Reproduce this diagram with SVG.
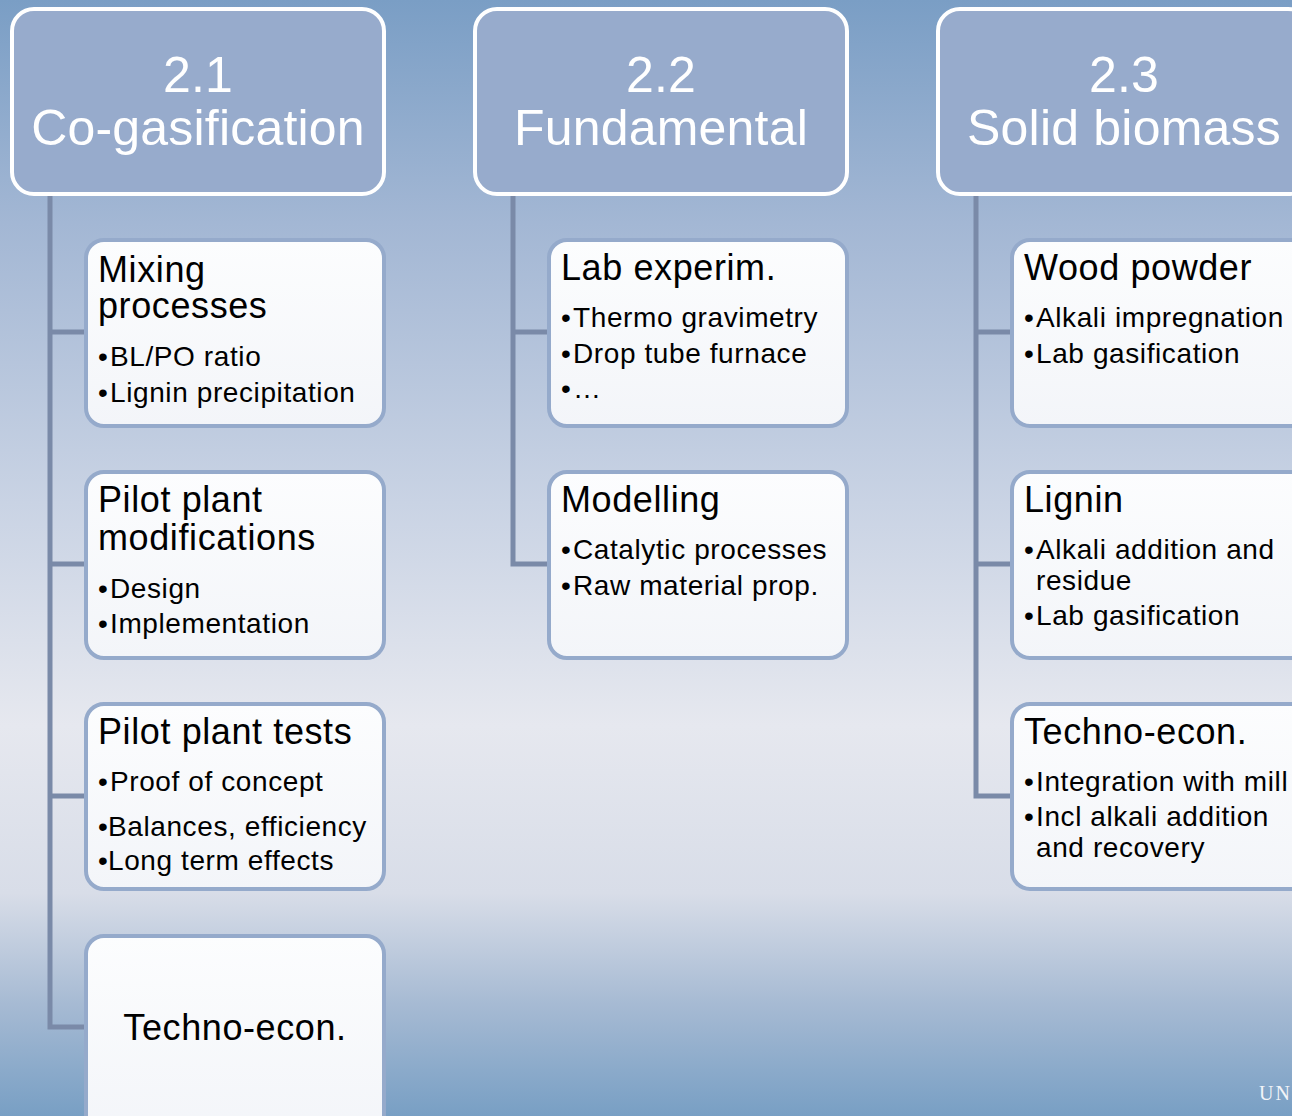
<svg xmlns="http://www.w3.org/2000/svg" width="1292" height="1116" viewBox="0 0 1292 1116">
<defs>
<linearGradient id="bg" x1="0" y1="0" x2="0" y2="1">
<stop offset="0" stop-color="#7a9ec5"/>
<stop offset="0.2" stop-color="#a3b7d4"/>
<stop offset="0.45" stop-color="#c9d3e4"/>
<stop offset="0.65" stop-color="#e6e8ef"/>
<stop offset="0.8" stop-color="#d8dde8"/>
<stop offset="0.9" stop-color="#a6bad3"/>
<stop offset="1" stop-color="#789fc4"/>
</linearGradient>
<linearGradient id="cf" x1="0" y1="0" x2="0" y2="1">
<stop offset="0" stop-color="#fcfdfe"/>
<stop offset="1" stop-color="#f3f5f9"/>
</linearGradient>
<style>
.hdr{fill:#97abcc;stroke:#ffffff;stroke-width:4}
.box{fill:url(#cf);stroke:#95aacb;stroke-width:4}
.conn{fill:none;stroke:#7a8aa8;stroke-width:5}
.ht{font-family:"Liberation Sans",Arial,sans-serif;font-size:50px;fill:#ffffff;text-anchor:middle;letter-spacing:0.2px}
.t{font-family:"Liberation Sans",Arial,sans-serif;font-size:36px;fill:#000000;letter-spacing:0.6px}
.b{font-family:"Liberation Sans",Arial,sans-serif;font-size:28px;fill:#000000;letter-spacing:0.6px}
.u{font-family:"Liberation Serif","Times New Roman",serif;font-size:20px;fill:#f2f4f8;letter-spacing:2px}
</style>
</defs>
<rect x="0" y="0" width="1292" height="1116" fill="url(#bg)"/>
<g id="connectors">
<path class="conn" d="M50 194 V1027 H86 M50 332 H86 M50 564 H86 M50 796 H86"/>
<path class="conn" d="M513 194 V564 H549 M513 332 H549"/>
<path class="conn" d="M976 194 V796 H1012 M976 332 H1012 M976 564 H1012"/>
</g>
<g id="h21"><rect class="hdr" x="12" y="9" width="372" height="185" rx="22"/><text class="ht" x="198" y="92">2.1</text><text class="ht" x="198" y="145">Co-gasification</text></g>
<g id="h22"><rect class="hdr" x="475" y="9" width="372" height="185" rx="22"/><text class="ht" x="661" y="92">2.2</text><text class="ht" x="661" y="145">Fundamental</text></g>
<g id="h23"><rect class="hdr" x="938" y="9" width="372" height="185" rx="22"/><text class="ht" x="1124" y="92">2.3</text><text class="ht" x="1124" y="145">Solid biomass</text></g>
<g id="n_mixing"><rect class="box" x="86" y="240" width="298" height="186" rx="18"/><text class="t" x="98" y="282">Mixing</text><text class="t" x="98" y="318">processes</text><text class="b" x="98" y="366">•<tspan x="110">BL/PO ratio</tspan></text><text class="b" x="98" y="402">•<tspan x="110">Lignin precipitation</tspan></text></g>
<g id="n_pilotmod"><rect class="box" x="86" y="472" width="298" height="186" rx="18"/><text class="t" x="98" y="512">Pilot plant</text><text class="t" x="98" y="550">modifications</text><text class="b" x="98" y="598">•<tspan x="110">Design</tspan></text><text class="b" x="98" y="633">•<tspan x="110">Implementation</tspan></text></g>
<g id="n_pilottests"><rect class="box" x="86" y="704" width="298" height="185" rx="18"/><text class="t" x="98" y="744">Pilot plant tests</text><text class="b" x="98" y="791">•<tspan x="110">Proof of concept</tspan></text><text class="b" x="98" y="836">•<tspan x="108">Balances, efficiency</tspan></text><text class="b" x="98" y="870">•<tspan x="108">Long term effects</tspan></text></g>
<g id="n_techno1"><rect class="box" x="86" y="936" width="298" height="200" rx="18"/><text class="t" x="235" y="1040" text-anchor="middle">Techno-econ.</text></g>
<g id="n_lab"><rect class="box" x="549" y="240" width="298" height="186" rx="18"/><text class="t" x="561" y="280">Lab experim.</text><text class="b" x="561" y="327">•<tspan x="573">Thermo gravimetry</tspan></text><text class="b" x="561" y="363">•<tspan x="573">Drop tube furnace</tspan></text><text class="b" x="561" y="398">•<tspan x="573">…</tspan></text></g>
<g id="n_model"><rect class="box" x="549" y="472" width="298" height="186" rx="18"/><text class="t" x="561" y="512">Modelling</text><text class="b" x="561" y="559">•<tspan x="573">Catalytic processes</tspan></text><text class="b" x="561" y="595">•<tspan x="573">Raw material prop.</tspan></text></g>
<g id="n_wood"><rect class="box" x="1012" y="240" width="298" height="186" rx="18"/><text class="t" x="1024" y="280">Wood powder</text><text class="b" x="1024" y="327">•<tspan x="1036">Alkali impregnation</tspan></text><text class="b" x="1024" y="363">•<tspan x="1036">Lab gasification</tspan></text></g>
<g id="n_lignin"><rect class="box" x="1012" y="472" width="298" height="186" rx="18"/><text class="t" x="1024" y="512">Lignin</text><text class="b" x="1024" y="559">•<tspan x="1036">Alkali addition and</tspan></text><text class="b" x="1036" y="590">residue</text><text class="b" x="1024" y="625">•<tspan x="1036">Lab gasification</tspan></text></g>
<g id="n_techno3"><rect class="box" x="1012" y="704" width="298" height="185" rx="18"/><text class="t" x="1024" y="744">Techno-econ.</text><text class="b" x="1024" y="791">•<tspan x="1036">Integration with mill</tspan></text><text class="b" x="1024" y="826">•<tspan x="1036">Incl alkali addition</tspan></text><text class="b" x="1036" y="857">and recovery</text></g>
<text class="u" x="1259" y="1100">UN</text>
</svg>
